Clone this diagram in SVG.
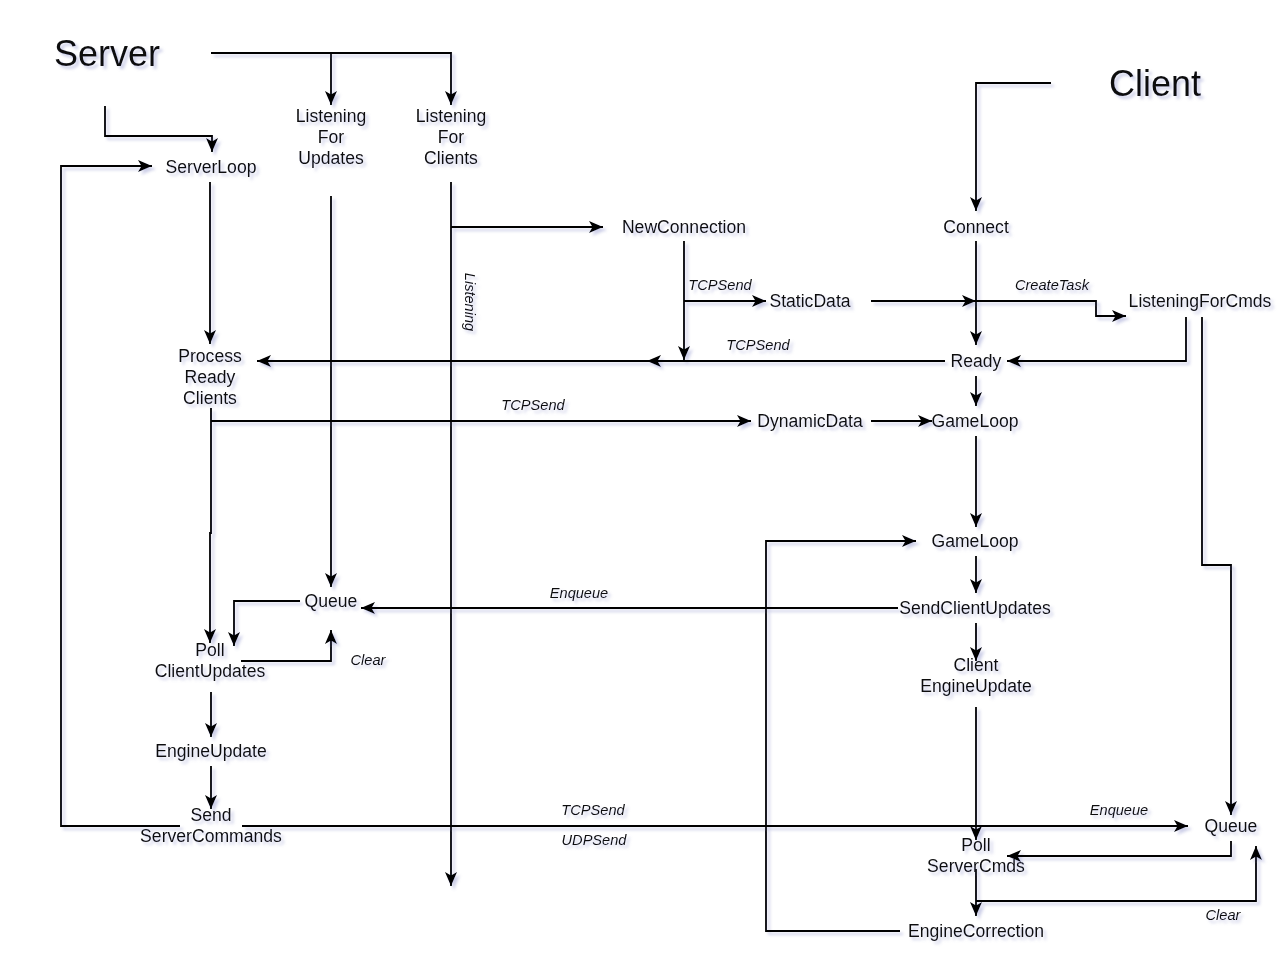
<svg xmlns="http://www.w3.org/2000/svg" width="1284" height="956" viewBox="0 0 1284 956">
<defs>
<filter id="sh" x="-10%" y="-10%" width="120%" height="120%">
<feDropShadow dx="3" dy="3" stdDeviation="1.6" flood-color="#7f86c4" flood-opacity="0.4"/>
</filter>
<marker id="arr" markerUnits="userSpaceOnUse" viewBox="0 0 15 13" markerWidth="15" markerHeight="13" refX="14" refY="6.5" orient="auto">
<path d="M0,0.5 L14,6.5 L0,12.5 L3.5,6.5 z" fill="#000"/>
</marker>
</defs>
<style>
text{font-family:"Liberation Sans",Arial,sans-serif;fill:#111;text-anchor:middle}
.n{font-size:17.6px}
.t{font-size:36px}
.l{font-size:14.6px;font-style:italic}
.c path{fill:none;stroke:#000;stroke-width:1.8}
.c path.a{marker-end:url(#arr)}
</style>
<rect width="1284" height="956" fill="#fff"/>
<g filter="url(#sh)">
<g id="connectors" class="c">
<path class="a" d="M211,53 H451 V105"/>
<path class="a" d="M331,53 V105"/>
<path class="a" d="M105,106 V136 H212 V152"/>
<path class="a" d="M180,826 H61 V166 H152"/>
<path class="a" d="M210,182 V344"/>
<path class="a" d="M331,196 V587"/>
<path class="a" d="M451,182 V886"/>
<path class="a" d="M451,227 H603"/>
<path class="a" d="M684,241 V360"/>
<path class="a" d="M684,301 H766"/>
<path class="a" d="M871,301 H976"/>
<path class="a" d="M976,301 H1096 V316 H1126"/>
<path class="a" d="M1051,83 H976 V211"/>
<path class="a" d="M976,241 V345"/>
<path class="a" d="M945,361 H647"/>
<path class="a" d="M650,361 H257"/>
<path class="a" d="M1186,317 V361 H1007"/>
<path class="a" d="M1202,317 V565 H1231 V815"/>
<path class="a" d="M976,376 V406"/>
<path class="a" d="M211,421 H751"/>
<path class="a" d="M871,421 H932"/>
<path class="a" d="M211,408 V533 H210 V643"/>
<path class="a" d="M976,436 V527"/>
<path class="a" d="M976,556 V593"/>
<path class="a" d="M898,608 H361"/>
<path class="a" d="M300,601 H234 V646"/>
<path class="a" d="M241,661 H331 V630"/>
<path class="a" d="M976,623 V661"/>
<path class="a" d="M211,692 V737"/>
<path class="a" d="M211,766 V809"/>
<path class="a" d="M242,826 H1188"/>
<path class="a" d="M976,707 V840"/>
<path class="a" d="M1231,841 V856 H1007"/>
<path class="a" d="M976,869 V916"/>
<path class="a" d="M976,901 H1256 V846"/>
<path class="a" d="M900,931 H766 V541 H916"/>
</g>
<g id="labels">
<text class="l" x="720" y="290">TCPSend</text>
<text class="l" x="758" y="350">TCPSend</text>
<text class="l" x="1052" y="290">CreateTask</text>
<text class="l" x="533" y="410">TCPSend</text>
<text class="l" transform="translate(465,302) rotate(90)" x="0" y="0">Listening</text>
<text class="l" x="579" y="598">Enqueue</text>
<text class="l" x="368" y="665">Clear</text>
<text class="l" x="593" y="815">TCPSend</text>
<text class="l" x="594" y="845">UDPSend</text>
<text class="l" x="1119" y="815">Enqueue</text>
<text class="l" x="1223" y="920">Clear</text>
</g>
<g id="server"><text class="t" x="107" y="66">Server</text></g>
<g id="client"><text class="t" x="1155" y="96">Client</text></g>
<g id="serverloop"><text class="n" x="211" y="173">ServerLoop</text></g>
<g id="listening-updates"><text class="n" x="331" y="122">Listening</text><text class="n" x="331" y="143">For</text><text class="n" x="331" y="164">Updates</text></g>
<g id="listening-clients"><text class="n" x="451" y="122">Listening</text><text class="n" x="451" y="143">For</text><text class="n" x="451" y="164">Clients</text></g>
<g id="newconnection"><text class="n" x="684" y="233">NewConnection</text></g>
<g id="connect"><text class="n" x="976" y="233">Connect</text></g>
<g id="staticdata"><text class="n" x="810" y="307">StaticData</text></g>
<g id="listeningforcmds"><text class="n" x="1200" y="307">ListeningForCmds</text></g>
<g id="process-ready"><text class="n" x="210" y="362">Process</text><text class="n" x="210" y="383">Ready</text><text class="n" x="210" y="404">Clients</text></g>
<g id="ready"><text class="n" x="976" y="367">Ready</text></g>
<g id="dynamicdata"><text class="n" x="810" y="427">DynamicData</text></g>
<g id="gameloop1"><text class="n" x="975" y="427">GameLoop</text></g>
<g id="gameloop2"><text class="n" x="975" y="547">GameLoop</text></g>
<g id="queue-left"><text class="n" x="331" y="607">Queue</text></g>
<g id="sendclientupdates"><text class="n" x="975" y="614">SendClientUpdates</text></g>
<g id="poll-clientupdates"><text class="n" x="210" y="656">Poll</text><text class="n" x="210" y="677">ClientUpdates</text></g>
<g id="client-engineupdate"><text class="n" x="976" y="671">Client</text><text class="n" x="976" y="692">EngineUpdate</text></g>
<g id="engineupdate"><text class="n" x="211" y="757">EngineUpdate</text></g>
<g id="send-servercommands"><text class="n" x="211" y="821">Send</text><text class="n" x="211" y="842">ServerCommands</text></g>
<g id="queue-right"><text class="n" x="1231" y="832">Queue</text></g>
<g id="poll-servercmds"><text class="n" x="976" y="851">Poll</text><text class="n" x="976" y="872">ServerCmds</text></g>
<g id="enginecorrection"><text class="n" x="976" y="937">EngineCorrection</text></g>
</g>
</svg>
